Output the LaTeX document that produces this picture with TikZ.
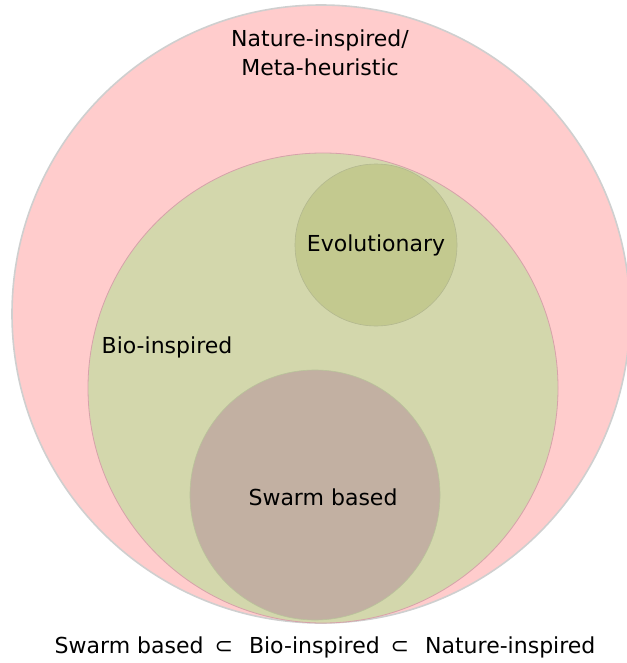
\documentclass[tikz,border=0pt]{standalone}
\usepackage{fontspec}
\setmainfont{DejaVu Sans}
\usepackage{tikz}
\usetikzlibrary{positioning}
\definecolor{natfill}{HTML}{FFCCCC}
\definecolor{natline}{HTML}{CFCFCF}
\definecolor{biofill}{HTML}{D3D7AC}
\definecolor{bioline}{HTML}{D6A2AA}
\definecolor{evofill}{HTML}{C3C98F}
\definecolor{evoline}{HTML}{B3B88F}
\definecolor{swafill}{HTML}{C2B0A2}
\definecolor{swaline}{HTML}{B9C39A}

\begin{document}
\begin{tikzpicture}[
    x=1pt, y=-1pt,
    Natset/.style={fill=natfill, draw=natline, line width=1.6pt},
    Bioset/.style={fill=biofill, draw=bioline, line width=0.8pt},
    Evoset/.style={fill=evofill, draw=evoline, line width=0.6pt},
    Swaset/.style={fill=swafill, draw=swaline, line width=0.6pt},
    lbl/.style={font=\fontsize{22}{29}\selectfont, align=center, inner sep=0pt},
]
\useasboundingbox (0,0) rectangle (626,663);
\filldraw[Natset] (321, 314) circle (309);
\filldraw[Bioset] (323, 388) circle (235);
\filldraw[Swaset] (315, 495) circle (125);
\filldraw[Evoset] (376, 245) circle (81);
\node[lbl] (natlbl) at (320, 53) {Nature-inspired/\\Meta-heuristic};
\node[lbl] (biolbl) at (167, 347) {Bio-inspired};
\node[lbl] (evolbl) at (376, 245) {Evolutionary};
\node[lbl] (swalbl) at (323, 497) {Swarm based};
\node[lbl] (sublbl) at (325, 647) {Swarm based\hspace{4pt} ⊂\hspace{9pt} Bio-inspired\hspace{4pt} ⊂\hspace{9pt} Nature-inspired};
\end{tikzpicture}
\end{document}
